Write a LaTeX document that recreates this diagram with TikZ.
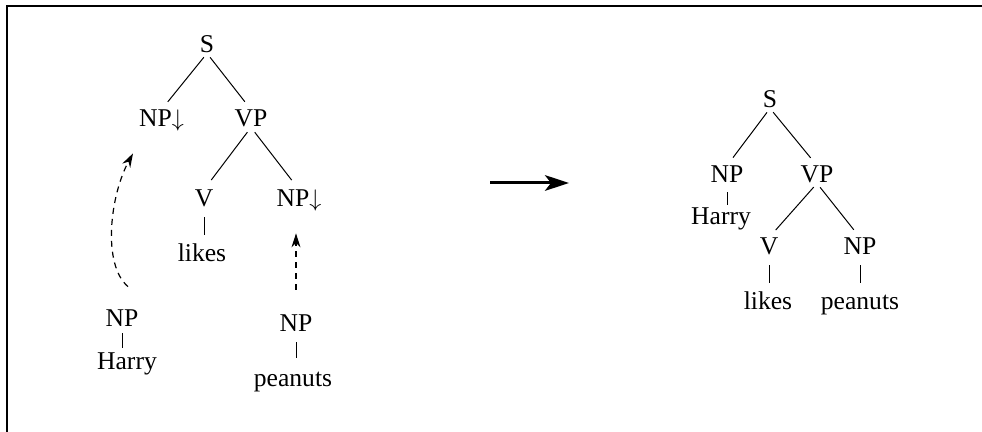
\documentclass[tikz,border=0pt]{standalone}
\usepackage{fontspec}
\setmainfont{Liberation Serif}
\usetikzlibrary{arrows.meta}

\newcommand{\subdown}{\ensuremath{\downarrow}}

\tikzset{
  cat/.style={anchor=base, inner sep=0pt, text height=8.5pt, text depth=0pt,
    font=\fontsize{12.8}{15}\selectfont},
  branch/.style={line width=0.5pt, shorten <=2.5pt, shorten >=5pt},
  stem/.style={line width=0.4pt, shorten <=5pt, shorten >=5pt},
  subst/.style={line width=0.6pt, dash pattern=on 3pt off 2.5pt,
    -{Stealth[length=7pt,width=4.5pt]}},
}

\begin{document}
\begin{tikzpicture}[x=0.5pt,y=-0.5pt]
\useasboundingbox (0,0) rectangle (982,432);
\draw[line width=1.15pt] (6.8,432) |- (982,6.2);

% elementary trees
\node[cat] (S1) at (207,53) {S};
\node[cat] (NP1) at (161.5,127) {NP\subdown};
\node[cat] (VP1) at (251,127) {VP};
\node[cat] (V1) at (204,207) {V};
\node[cat] (NP2) at (299,207) {NP\subdown};
\node[cat] (likes1) at (202,262) {likes};

\node[cat] (NPh) at (122,327) {NP};
\node[cat] (harry1) at (127,370) {Harry};
\node[cat] (NPp) at (296,332) {NP};
\node[cat] (peanuts1) at (293,387) {peanuts};

\draw[branch] (S1.south) -- (NP1.north);
\draw[branch] (S1.south) -- (VP1.north);
\draw[branch, shorten <=3pt, shorten >=6pt] (VP1.south) -- (V1.north);
\draw[branch, shorten <=3pt, shorten >=6pt] (VP1.south) -- (NP2.north);
\draw[stem] (V1.south) -- (V1.south |- likes1.north);
\draw[stem, shorten <=3pt, shorten >=2.5pt] (NPh.south) -- (NPh.south |- harry1.north);
\draw[stem, shorten >=6pt] (NPp.south) -- (NPp.south |- peanuts1.north);

% substitution
\draw[subst] ([shift={(3pt,11.5pt)}]NPh.north)
  .. controls +(-13pt,11pt) and +(-11.5pt,-21pt) .. ([shift={(-14.25pt,-13pt)}]NP1.south);
\draw[subst, shorten <=12.5pt, shorten >=13pt] (NPp.north) -- (NPp.north |- NP2.south);

\coordinate (from) at (490,183);
\coordinate (to) at (569,183);
\draw[line width=1.5pt, -{Stealth[length=12pt,width=7.8pt,inset=3pt]}] (from) -- (to);

% derived tree
\node[cat] (S2) at (770,108) {S};
\node[cat] (NP3) at (727,183) {NP};
\node[cat] (VP2) at (817,183) {VP};
\node[cat] (harry2) at (721,225) {Harry};
\node[cat] (V2) at (769,255) {V};
\node[cat] (NP4) at (860,255) {NP};
\node[cat] (likes2) at (768,310) {likes};
\node[cat] (peanuts2) at (860,310) {peanuts};

\draw[branch] (S2.south) -- (NP3.north);
\draw[branch] (S2.south) -- (VP2.north);
\draw[branch] (VP2.south) -- (V2.north);
\draw[branch] (VP2.south) -- (NP4.north);
\draw[stem, shorten <=4.5pt, shorten >=1.5pt] (NP3.south) -- (NP3.south |- harry2.north);
\draw[stem] (V2.south) -- (V2.south |- likes2.north);
\draw[stem] (NP4.south) -- (NP4.south |- peanuts2.north);
\end{tikzpicture}
\end{document}
